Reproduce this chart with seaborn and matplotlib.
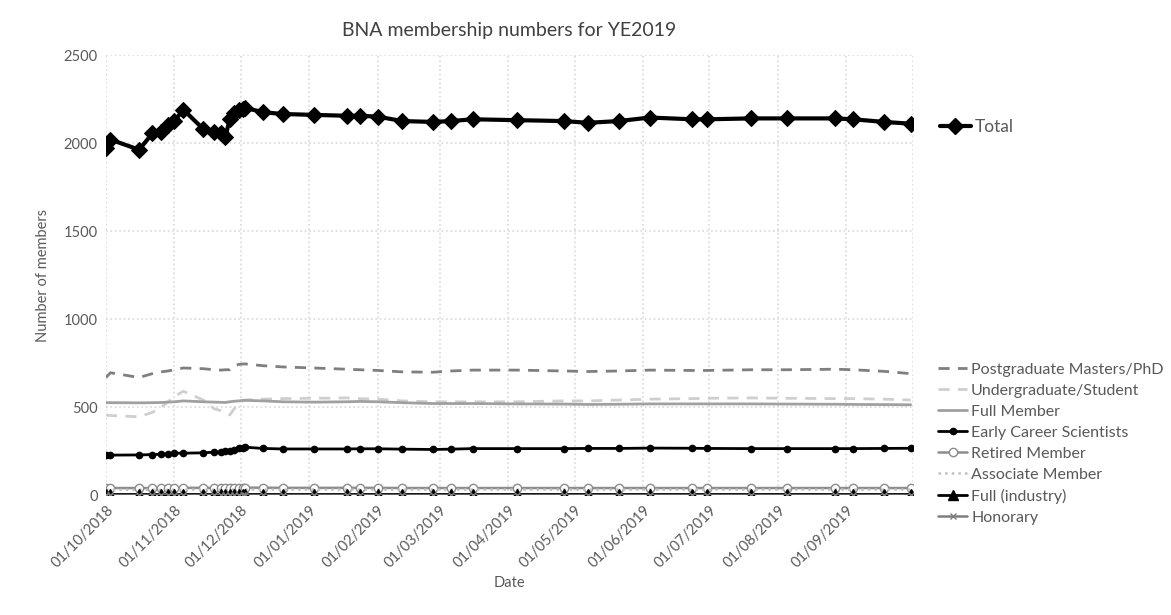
import pandas as pd
import seaborn as sns
import matplotlib.pyplot as plt
from matplotlib.lines import Line2D

# data
dates = ['2018-10-01', '2018-10-03', '2018-10-16', '2018-10-22', '2018-10-26', '2018-10-29',
         '2018-11-01', '2018-11-05', '2018-11-14', '2018-11-19', '2018-11-22', '2018-11-24',
         '2018-11-26', '2018-11-28', '2018-11-30', '2018-12-02', '2018-12-03', '2018-12-11',
         '2018-12-20', '2019-01-03', '2019-01-18', '2019-01-24', '2019-02-01', '2019-02-12',
         '2019-02-26', '2019-03-06', '2019-03-16', '2019-04-05', '2019-04-26', '2019-05-07',
         '2019-05-21', '2019-06-04', '2019-06-23', '2019-06-30', '2019-07-20', '2019-08-05',
         '2019-08-27', '2019-09-04', '2019-09-18', '2019-09-30']

total = [1972, 2020, 1962, 2055, 2062, 2105, 2125, 2190, 2080, 2065, 2055, 2035, 2135, 2170,
         2185, 2195, 2200, 2175, 2165, 2160, 2155, 2155, 2150, 2125, 2120, 2125, 2135, 2130,
         2125, 2115, 2125, 2145, 2135, 2135, 2140, 2140, 2140, 2135, 2120, 2110]
postgrad = [668, 695, 668, 690, 700, 705, 712, 722, 718, 712, 710, 712, 712, 735, 742, 745,
            745, 735, 728, 722, 715, 712, 708, 700, 698, 705, 710, 710, 705, 702, 705, 710,
            708, 708, 712, 712, 715, 712, 703, 690]
undergrad = [455, 452, 445, 470, 500, 530, 560, 590, 540, 490, 480, 470, 455, 490, 520, 535,
             540, 545, 548, 550, 552, 548, 545, 535, 530, 530, 530, 530, 535, 535, 540, 545,
             548, 550, 552, 550, 548, 548, 545, 540]
full_member = [525, 525, 524, 525, 526, 528, 530, 535, 530, 528, 527, 526, 530, 533, 535, 538,
               538, 535, 530, 528, 530, 532, 530, 525, 520, 520, 520, 518, 517, 515, 516, 518,
               518, 518, 518, 517, 516, 515, 514, 513]
early_career = [227, 227, 228, 230, 232, 235, 238, 238, 240, 244, 246, 248, 252, 258, 266, 270,
                272, 265, 262, 262, 262, 263, 263, 261, 259, 261, 264, 264, 264, 265, 265, 267,
                266, 265, 264, 264, 264, 264, 265, 266]
retired = [40, 40, 40, 40, 40, 41, 41, 41, 41, 41, 41, 41, 41, 42, 42, 42, 42, 42, 41, 41, 41,
           41, 41, 40, 40, 40, 40, 40, 40, 40, 40, 40, 40, 40, 40, 40, 40, 40, 40, 40]
associate = [30, 30, 30, 30, 30, 30, 30, 31, 31, 31, 31, 31, 31, 31, 31, 31, 31, 31, 31, 31,
             31, 31, 31, 31, 31, 31, 31, 31, 31, 31, 31, 31, 31, 31, 31, 31, 31, 31, 31, 31]
full_industry = [7, 7, 7, 7, 7, 7, 7, 7, 7, 7, 7, 7, 7, 7, 7, 7, 7, 7, 7, 7, 7, 7, 7, 7, 7, 7,
                 7, 7, 7, 7, 7, 7, 7, 7, 7, 7, 7, 7, 7, 7]
honorary = [3] * 40

df = pd.DataFrame({'Date': pd.to_datetime(dates), 'Total': total,
                   'Postgraduate Masters/PhD': postgrad, 'Undergraduate/Student': undergrad,
                   'Full Member': full_member, 'Early Career Scientists': early_career,
                   'Retired Member': retired, 'Associate Member': associate,
                   'Full (industry)': full_industry, 'Honorary': honorary})

# series styles (colour, linestyle, linewidth, marker, marker size, marker face)
styles = {
    'Postgraduate Masters/PhD': ('#7f7f7f', (0, (4, 3)), 2.0, None, 0, None),
    'Undergraduate/Student': ('#cfcfcf', (0, (4, 3)), 2.0, None, 0, None),
    'Full Member': ('#a0a0a0', '-', 2.0, None, 0, None),
    'Early Career Scientists': ('black', '-', 2.0, 'o', 4.5, 'black'),
    'Retired Member': ('#8c8c8c', '-', 1.8, 'o', 6, 'white'),
    'Associate Member': ('#c0c0c0', ':', 1.8, None, 0, None),
    'Full (industry)': ('black', '-', 2.0, '^', 7, 'black'),
    'Honorary': ('#7f7f7f', '-', 1.8, 'x', 5, '#7f7f7f'),
}

sns.set_theme(style='white')
plt.rcParams['font.family'] = ['Lato', 'DejaVu Sans']
txt = '#595959'

fig = plt.figure(figsize=(11.71, 6.15), dpi=100)
ax = fig.add_axes([0.0905, 0.195, 0.689, 0.7155])

handles = []
for name, (col, ls, lw, mk, ms, mfc) in styles.items():
    sns.lineplot(data=df, x='Date', y=name, ax=ax, color=col, linestyle=ls, linewidth=lw,
                 marker=mk, markersize=ms, markerfacecolor=mfc, markeredgecolor=col,
                 markeredgewidth=1.0, zorder=3)
    handles.append(Line2D([], [], color=col, linestyle=ls, linewidth=lw, marker=mk,
                          markersize=ms, markerfacecolor=mfc, markeredgecolor=col))

sns.lineplot(data=df, x='Date', y='Total', ax=ax, color='black', linewidth=3,
             marker='D', markersize=8.5, markeredgecolor='black', zorder=4)
h_total = Line2D([], [], color='black', linewidth=3, marker='D', markersize=8)

months = pd.date_range('2018-10-01', '2019-10-01', freq='MS')
ax.set_xlim(months[0], months[-1])
ax.set_ylim(0, 2500)
ax.set_yticks(range(0, 2501, 500))
ax.set_xticks(months)
ax.set_xticklabels([d.strftime('%d/%m/%Y') for d in months[:-1]] + [''],
                   rotation=45, ha='right', rotation_mode='anchor')
ax.tick_params(axis='both', labelsize=10.5, colors=txt, length=0, pad=6)
ax.grid(True, color='#d9d9d9', linestyle=':', linewidth=1.2)
for s in ax.spines.values():
    s.set_visible(False)

ax.set_title('BNA membership numbers for YE2019', fontsize=14, color='#404040', pad=14)
ax.set_xlabel('Date', fontsize=10.5, color=txt, labelpad=4)
ax.set_ylabel('Number of members', fontsize=10.5, color=txt, labelpad=10)

fig.legend([h_total], ['Total'], loc='center left', bbox_to_anchor=(0.789, 0.793),
           frameon=False, fontsize=12.5, handlelength=1.8, handletextpad=0.25,
           labelcolor=txt)
fig.legend(handles, list(styles.keys()), loc='upper left', bbox_to_anchor=(0.789, 0.434),
           frameon=False, fontsize=11.5, handlelength=1.8, handletextpad=0.25,
           labelspacing=0.43, labelcolor=txt)

fig.savefig('out.png', dpi=100)
